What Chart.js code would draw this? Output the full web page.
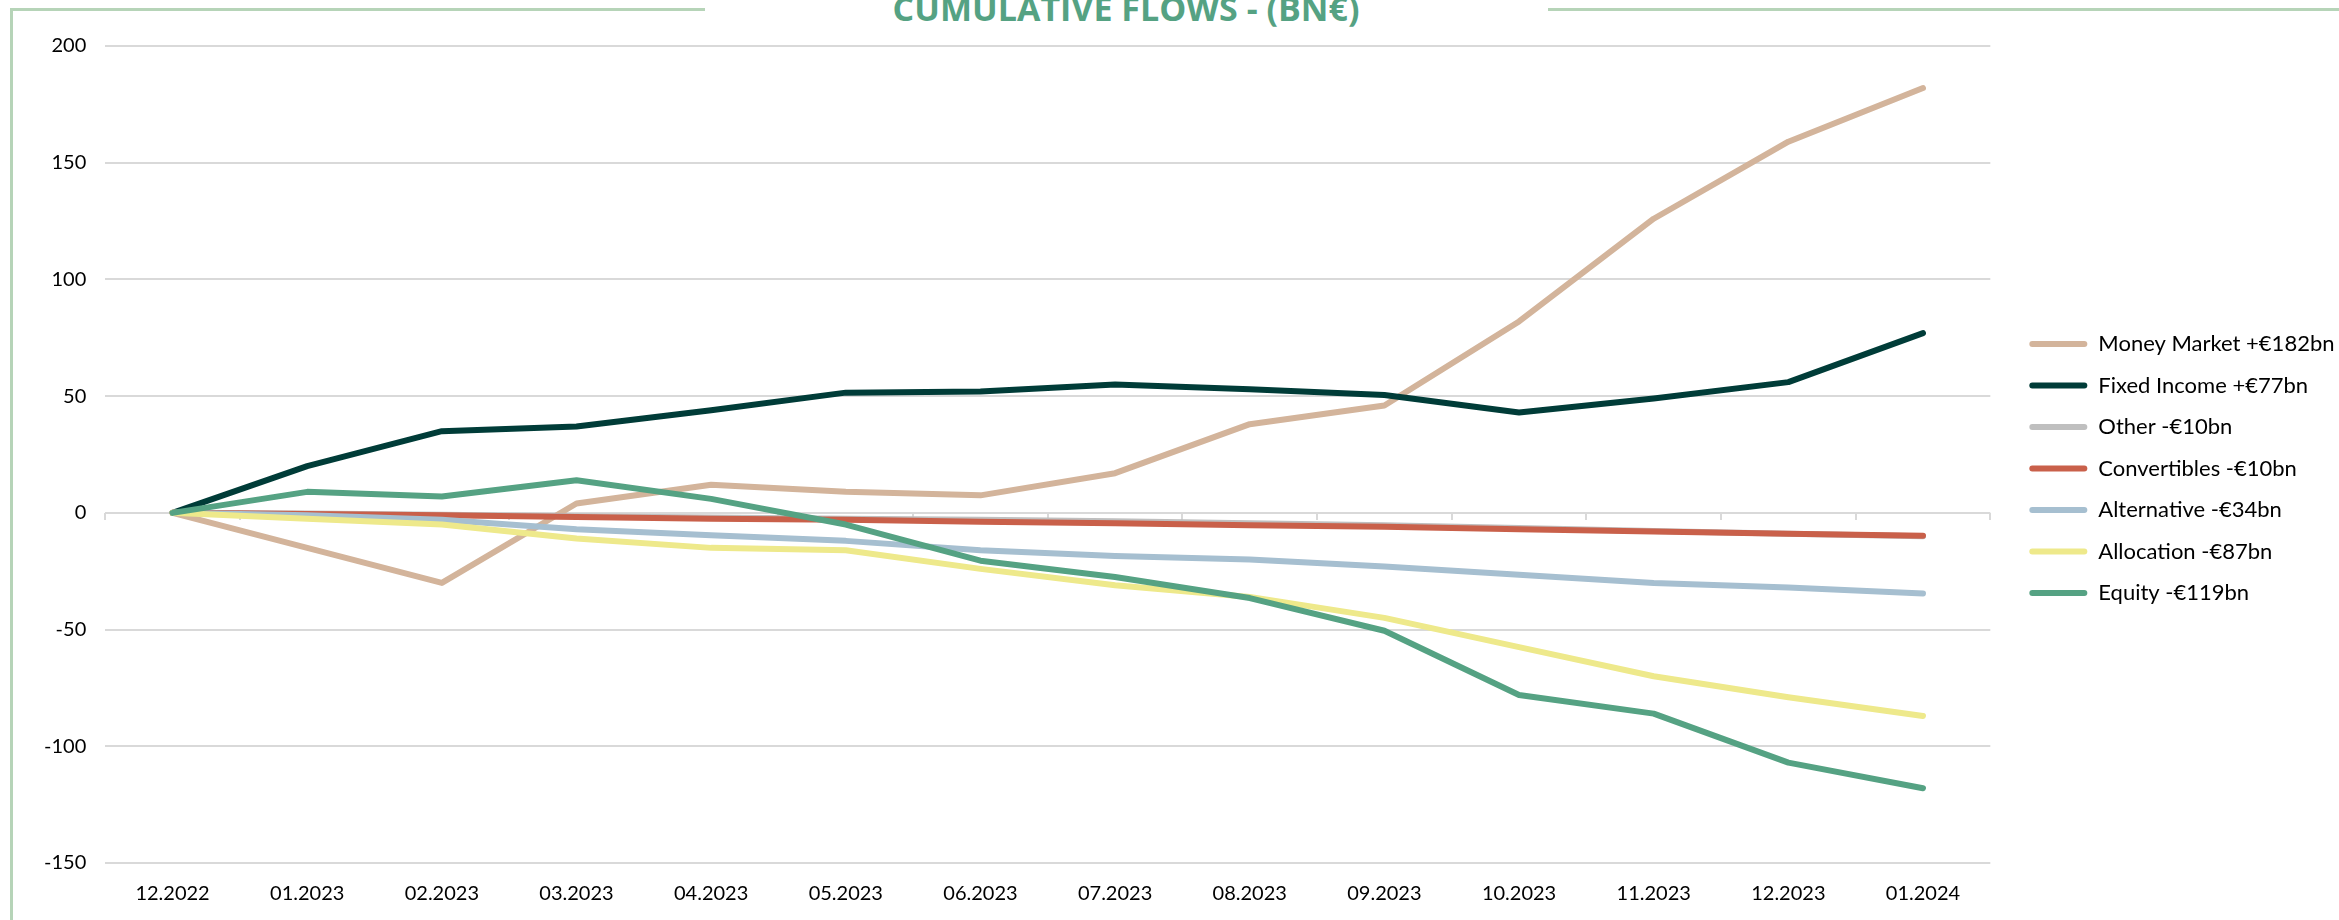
<!DOCTYPE html>
<html>
<head>
<meta charset="utf-8">
<script src="https://cdn.jsdelivr.net/npm/chart.js@4.4.1/dist/chart.umd.min.js"></script>
<style>
  html, body { margin: 0; padding: 0; background: #ffffff; }
  #wrap { position: relative; width: 2339px; height: 920px; overflow: hidden; background: #fff; }
  #chartBox { position: absolute; left: 0; top: 0; width: 2339px; height: 920px; }
  .frame { position: absolute; background: #b6d4b8; }
  #title { position: absolute; left: 0; width: 2252px; top: -9px; text-align: center;
           font-family: "Open Sans", Lato, sans-serif; font-weight: bold; font-size: 34px; line-height: 1;
           color: #55a283; white-space: pre; }
</style>
</head>
<body>
<div id="wrap">
  <div class="frame" style="left:10px; top:8px; width:3px; height:912px;"></div>
  <div class="frame" style="left:10px; top:8px; width:695px; height:3px;"></div>
  <div class="frame" style="left:1548px; top:8px; width:791px; height:3px;"></div>
  <div id="title">CUMULATIVE FLOWS - (BN€)</div>
  <div id="chartBox"><canvas id="c"></canvas></div>
</div>
<script>
const months = ["12.2022","01.2023","02.2023","03.2023","04.2023","05.2023","06.2023","07.2023","08.2023","09.2023","10.2023","11.2023","12.2023","01.2024"];
const seriesNames = ["Money Market +€182bn","Fixed Income +€77bn","Other -€10bn","Convertibles -€10bn","Alternative -€34bn","Allocation -€87bn","Equity -€119bn"];
const moneyMarket = [0, -15, -30, 4, 12, 9, 7.5, 17, 38, 46, 82, 126, 159, 182];
const fixedIncome = [0, 20, 35, 37, 44, 51.5, 52, 55, 53, 50.5, 43, 49, 56, 77];
const other       = [0, -0.3, -0.8, -1.5, -2, -2.5, -3, -3.6, -4.5, -5.3, -6.5, -7.8, -9, -10];
const convertibles= [0, -0.5, -1, -1.8, -2.5, -3, -3.8, -4.5, -5.3, -6, -7, -8, -9, -9.8];
const alternative = [0, -1, -3, -7, -9.6, -12, -16, -18.5, -20, -23, -26.5, -30, -32, -34.5];
const allocation  = [0, -2.5, -5, -11, -15, -16, -24, -31, -36, -45, -57.5, -70, -79, -87];
const equity      = [0, 9, 7, 14, 6, -5, -20.5, -27.5, -36.5, -50.5, -78, -86, -107, -118];
const yTicks = [-150, -100, -50, 0, 50, 100, 150, 200];

const colors = ["#d3b49b","#003c38","#bfbfbf","#c9604a","#a6bfd0","#eee98b","#55a283"];
const values = [moneyMarket, fixedIncome, other, convertibles, alternative, allocation, equity];

const datasets = seriesNames.map((name, i) => ({
  label: name,
  data: values[i],
  borderColor: colors[i],
  backgroundColor: colors[i],
  borderWidth: 6,
  pointRadius: 0,
  tension: 0,
  borderJoinStyle: 'round',
  borderCapStyle: 'round',
  fill: false,
  order: seriesNames.length - i
}));

const font = "Lato, 'Open Sans', sans-serif";

new Chart(document.getElementById('c'), {
  type: 'line',
  data: { labels: months, datasets },
  options: {
    responsive: true,
    maintainAspectRatio: false,
    devicePixelRatio: 1,
    animation: false,
    layout: { padding: { left: 25, top: 46, bottom: -5, right: -5.5 } },
    plugins: {
      title: { display: false },
      tooltip: { enabled: false },
      legend: {
        position: 'right',
        align: 'start',
        title: { display: true, text: ' ', padding: { top: 255.5, bottom: 0 }, font: { size: 10, lineHeight: 1.2 } },
        labels: {
          boxWidth: 58,
          boxHeight: 6,
          useBorderRadius: true,
          borderRadius: 3,
          padding: 19.5,
          color: '#000',
          font: { family: font, size: 22 },
          sort: (a, b) => a.datasetIndex - b.datasetIndex,
          generateLabels: (chart) => chart.data.datasets.map((ds, i) => ({
            text: ds.label, fillStyle: ds.borderColor, strokeStyle: ds.borderColor, fontColor: '#000',
            lineWidth: 0, hidden: false, datasetIndex: i, borderRadius: 3
          }))
        }
      }
    },
    scales: {
      x: {
        type: 'category',
        offset: true,
        grid: { display: false, drawTicks: false },
        border: { display: false },
        ticks: { color: '#000', padding: 19, font: { family: font, size: 20 }, maxRotation: 0, autoSkip: false }
      },
      xZero: {
        type: 'category',
        position: { y: 0 },
        offset: true,
        grid: { display: true, offset: true, drawOnChartArea: false, drawTicks: true, tickLength: 7, color: '#d9d9d9', lineWidth: 2 },
        border: { display: false },
        ticks: { display: false, autoSkip: false }
      },
      y: {
        min: -150, max: 200,
        afterBuildTicks: (axis) => { axis.ticks = yTicks.map(v => ({ value: v })); },
        grid: { color: '#d9d9d9', lineWidth: 2, drawTicks: false },
        border: { display: false },
        ticks: { color: '#000', padding: 19, font: { family: font, size: 20 } }
      },
      spacer: {
        position: 'right',
        display: true,
        grid: { display: false, drawTicks: false },
        border: { display: false },
        ticks: { display: false },
        afterFit: (axis) => { axis.width = 19.5; }
      }
    }
  }
});
</script>
</body>
</html>
